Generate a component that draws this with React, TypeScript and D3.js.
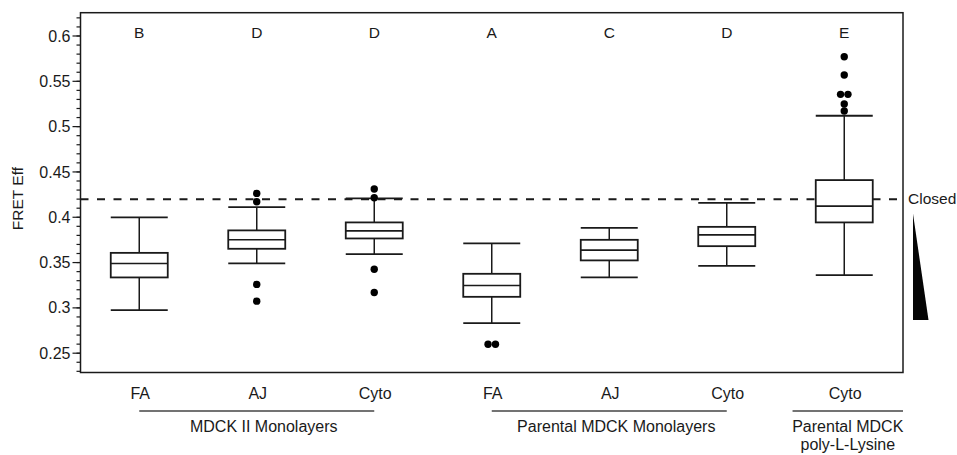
import React from "react";
import * as d3 from "d3";

// Conditions along the x axis
const categories = ["FA", "AJ", "Cyto", "FA", "AJ", "Cyto", "Cyto"];
// Statistical grouping letters above each box
const letters = ["B", "D", "D", "A", "C", "D", "E"];

// Box-plot summary per condition
const whiskerLow = [0.2975, 0.349, 0.3593, 0.2831, 0.3336, 0.3464, 0.3361];
const quartile1 = [0.3336, 0.3652, 0.3766, 0.3122, 0.3524, 0.3681, 0.3943];
const medians = [0.349, 0.3751, 0.385, 0.3247, 0.3637, 0.3806, 0.4123];
const quartile3 = [0.3607, 0.3855, 0.3943, 0.3376, 0.3751, 0.3894, 0.441];
const whiskerHigh = [0.3998, 0.4112, 0.4208, 0.3711, 0.3883, 0.4159, 0.512];
const outliers: number[][] = [
  [],
  [0.4263, 0.4171, 0.3259, 0.3074],
  [0.4311, 0.4215, 0.3427, 0.317],
  [0.2599, 0.2599],
  [],
  [],
  [0.5771, 0.5569, 0.5356, 0.5356, 0.5249, 0.5172],
];

// Category groups (index ranges) and their labels
const groupLabels = [["MDCK II Monolayers"], ["Parental MDCK Monolayers"], ["Parental MDCK", "poly-L-Lysine"]];
const groupStart = [0, 3, 6];
const groupEnd = [2, 5, 6];

// Reference level for the closed conformation
const closedLevel = 0.42;
const closedLabel = "Closed";
const wedgeBottom = 0.2865;

const yTicks = [0.25, 0.3, 0.35, 0.4, 0.45, 0.5, 0.55, 0.6];
const yTickLabels = ["0.25", "0.3", "0.35", "0.4", "0.45", "0.5", "0.55", "0.6"];
const yDomain = [0.2287, 0.6257];
const yTitle = "FRET Eff";

const W = 957;
const H = 455;
const left = 80.5;
const right = 903;
const top = 12.7;
const bottom = 372.5;
const FONT = "'Liberation Sans', Arial, Helvetica, sans-serif";
const INK = "#1a1a1a";

export default function App() {
  const x = d3
    .scaleBand<number>()
    .domain(categories.map((_, i) => i))
    .range([left, right])
    .padding(0);
  const y = d3.scaleLinear().domain(yDomain).range([bottom, top]);
  const bw = x.bandwidth();
  const boxW = bw * 0.485;
  const cx = (i: number) => (x(i) as number) + bw / 2;

  const minorTicks = d3.range(23, 63).map((v) => v / 100);

  // Spread outliers that share (nearly) the same value side by side
  const r = 3.7;
  const placeDots = (vals: number[], c: number) => {
    const ys = vals.map((v) => y(v));
    const done = new Array(vals.length).fill(false);
    const out: { x: number; y: number }[] = [];
    for (let i = 0; i < ys.length; i++) {
      if (done[i]) continue;
      const cluster = [i];
      for (let j = i + 1; j < ys.length; j++) {
        if (!done[j] && Math.abs(ys[j] - ys[i]) < 2) cluster.push(j);
      }
      cluster.forEach((k, n) => {
        done[k] = true;
        const off = (n - (cluster.length - 1) / 2) * r * 2;
        out.push({ x: c + off, y: ys[k] });
      });
    }
    return out;
  };

  const yClosed = y(closedLevel);
  const wedgeTop = yClosed + 14.5;
  const wedgeX = right + 10;

  return (
    <svg
      width={W}
      height={H}
      style={{ position: "absolute", left: 0, top: 0, background: "#fff" }}
      fontFamily={FONT}
    >
      <rect x={0} y={0} width={W} height={H} fill="#fff" />

      {/* y axis minor and major ticks */}
      <g stroke={INK} strokeWidth={1.2}>
        {minorTicks.map((v) =>
          y(v) >= top && y(v) <= bottom ? (
            <line key={"m" + v} x1={left - 4} x2={left} y1={y(v)} y2={y(v)} />
          ) : null
        )}
        {yTicks.map((v) => (
          <line key={"M" + v} x1={left - 8} x2={left} y1={y(v)} y2={y(v)} />
        ))}
      </g>
      {yTicks.map((v, i) => (
        <text
          key={"t" + v}
          x={left - 10}
          y={y(v)}
          dy="0.35em"
          textAnchor="end"
          fontSize={16}
          fill={INK}
        >
          {yTickLabels[i]}
        </text>
      ))}
      <text
        transform={`translate(23, ${(top + bottom) / 2 + 6}) rotate(-90)`}
        textAnchor="middle"
        fontSize={15.5}
        fill={INK}
      >
        {yTitle}
      </text>

      {/* closed-state reference line */}
      <line
        x1={left}
        x2={right}
        y1={yClosed}
        y2={yClosed}
        stroke={INK}
        strokeWidth={2}
        strokeDasharray="8 8.5"
      />

      {/* boxes */}
      {categories.map((_, i) => {
        const c = cx(i);
        return (
          <g key={"b" + i} stroke={INK} fill="none">
            <line x1={c} x2={c} y1={y(whiskerLow[i])} y2={y(quartile1[i])} strokeWidth={1.5} />
            <line x1={c} x2={c} y1={y(quartile3[i])} y2={y(whiskerHigh[i])} strokeWidth={1.5} />
            <line
              x1={c - boxW / 2}
              x2={c + boxW / 2}
              y1={y(whiskerLow[i])}
              y2={y(whiskerLow[i])}
              strokeWidth={1.8}
            />
            <line
              x1={c - boxW / 2}
              x2={c + boxW / 2}
              y1={y(whiskerHigh[i])}
              y2={y(whiskerHigh[i])}
              strokeWidth={1.8}
            />
            <rect
              x={c - boxW / 2}
              y={y(quartile3[i])}
              width={boxW}
              height={y(quartile1[i]) - y(quartile3[i])}
              fill="#fff"
              strokeWidth={1.8}
            />
            <line
              x1={c - boxW / 2}
              x2={c + boxW / 2}
              y1={y(medians[i])}
              y2={y(medians[i])}
              strokeWidth={1.6}
            />
            {placeDots(outliers[i], c).map((p, k) => (
              <circle key={k} cx={p.x} cy={p.y} r={r} fill="#000" stroke="none" />
            ))}
          </g>
        );
      })}

      {/* significance letters */}
      {letters.map((l, i) => (
        <text key={"l" + i} x={cx(i)} y={37.5} textAnchor="middle" fontSize={15.5} fill={INK}>
          {l}
        </text>
      ))}

      {/* frame */}
      <rect
        x={left}
        y={top}
        width={right - left}
        height={bottom - top}
        fill="none"
        stroke={INK}
        strokeWidth={1.5}
      />

      {/* closed label and wedge */}
      <text x={right + 5} y={yClosed + 5} fontSize={15.5} fill={INK}>
        {closedLabel}
      </text>
      <path
        d={`M${wedgeX},${wedgeTop} L${wedgeX + 15.5},${y(wedgeBottom)} L${wedgeX},${y(wedgeBottom)} Z`}
        fill="#050505"
      />

      {/* category labels */}
      {categories.map((c, i) => (
        <text key={"c" + i} x={cx(i) + 1} y={398.5} textAnchor="middle" fontSize={16} fill={INK}>
          {c}
        </text>
      ))}

      {/* group brackets */}
      {groupLabels.map((lines, g) => {
        const single = groupStart[g] === groupEnd[g];
        const x1 = single ? cx(groupStart[g]) - bw * 0.44 : cx(groupStart[g]);
        const x2 = single ? cx(groupEnd[g]) + bw * 0.5 : cx(groupEnd[g]);
        const mid = (x1 + x2) / 2 + (single ? 0 : 7);
        return (
          <g key={"g" + g}>
            <line x1={x1} x2={x2} y1={411} y2={411} stroke="#444" strokeWidth={1.3} />
            {lines.map((t, k) => (
              <text
                key={k}
                x={mid}
                y={432 + k * 18}
                textAnchor="middle"
                fontSize={16}
                fill={INK}
              >
                {t}
              </text>
            ))}
          </g>
        );
      })}
    </svg>
  );
}
